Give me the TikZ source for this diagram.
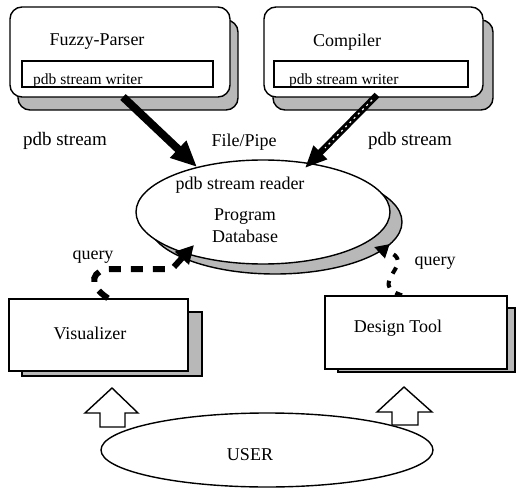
\documentclass[tikz,border=0pt]{standalone}
\usepackage{fontspec}
\setmainfont{Liberation Serif}
\usetikzlibrary{arrows.meta,shapes.geometric}
\begin{document}
\begin{tikzpicture}[x=1pt,y=-1pt,
  frontbox/.style={draw=black, line width=1.4pt, fill=white, rectangle, inner sep=0pt},
  shadebox/.style={draw=black, line width=1.4pt, fill=black!28, rectangle, inner sep=0pt},
  innerbox/.style={draw=black, line width=1.2pt, fill=white, rectangle, inner sep=0pt},
  ellfront/.style={draw=black, line width=1.4pt, fill=white, ellipse, inner sep=0pt},
  ellshade/.style={draw=black, line width=1.4pt, fill=black!28, ellipse, inner sep=0pt},
  lbl/.style={font=\fontsize{18}{21}\selectfont, inner sep=0pt},
  slbl/.style={font=\fontsize{15.5}{18}\selectfont, inner sep=0pt},
  mlbl/.style={font=\fontsize{19}{22}\selectfont, inner sep=0pt},
  blockarrow/.style={draw=black, line width=1.4pt, fill=white, line join=miter},
  bigflow/.style={line width=8pt, -{Triangle[length=26pt,width=22pt]}},
  queryflow/.style={line width=6pt, dash pattern=on 12pt off 10pt, -{Triangle[length=18pt,width=18pt]}},
]
\useasboundingbox (0,0) rectangle (516,489);

% ---- Fuzzy-Parser
\node[shadebox, rounded corners=12pt, minimum width=220pt, minimum height=90pt] (fps) at (128,65) {};
\node[frontbox, rounded corners=12pt, minimum width=220pt, minimum height=90pt] (fp) at (120,52) {};
\node[innerbox, minimum width=191pt, minimum height=26pt] (fpw) at (117.5,74) {};
\node[lbl] (fpt) at (97,42) {Fuzzy-Parser};
\node[slbl, anchor=base west] (fpwt) at (33,85) {pdb stream writer};

% ---- Compiler
\node[shadebox, rounded corners=12pt, minimum width=220pt, minimum height=90pt] (cps) at (383,65) {};
\node[frontbox, rounded corners=12pt, minimum width=219pt, minimum height=90pt] (cp) at (373.5,52) {};
\node[innerbox, minimum width=194pt, minimum height=26pt] (cpw) at (371,74) {};
\node[lbl] (cpt) at (347,42) {Compiler};
\node[slbl, anchor=base west] (cpwt) at (289,85) {pdb stream writer};

% ---- labels between
\node[mlbl] (ls1) at (65,141) {pdb stream};
\node[lbl] (ls2) at (244,142) {File/Pipe};
\node[mlbl] (ls3) at (410,141) {pdb stream};

% ---- Program database
\node[ellshade, minimum width=254pt, minimum height=104pt] (dbs) at (275,222) {};
\node[ellfront, minimum width=254pt, minimum height=104pt] (db) at (263,212) {};
\node[lbl] (dbt1) at (240,185) {pdb stream reader};
\node[lbl] (dbt2) at (245,217) {Program};
\node[lbl] (dbt3) at (245,236) {Database};

% ---- flows into database
\coordinate (a1s) at (123,97);
\coordinate (a1e) at (197,167);
\draw[bigflow] (a1s) -- (a1e);
\coordinate (a2s) at (377,95);
\coordinate (a2e) at (305,168);
\draw[line width=6.5pt, -{Triangle[length=22pt,width=18pt]}] (a2s) -- (a2e);
\draw[white, line width=1.2pt, dash pattern=on 2pt off 4pt] (372,100) -- (325,148);

% ---- Visualizer
\node[shadebox, minimum width=180pt, minimum height=64pt] (vis) at (112,344) {};
\node[frontbox, minimum width=179pt, minimum height=72pt] (vi) at (98.5,335) {};
\node[lbl] (vit) at (90,333) {Visualizer};

% ---- Design Tool
\node[shadebox, minimum width=177pt, minimum height=64pt] (dts) at (426.5,340) {};
\node[frontbox, minimum width=182pt, minimum height=73pt] (dt) at (416,332.5) {};
\node[lbl] (dtt) at (398,328) {Design Tool};

% ---- query arrows
\coordinate (q1s) at (vi.north -| 108,0);
\coordinate (q1e) at (194,245);
\draw[queryflow] (q1s) .. controls (86,284) and (92,269) .. (112,269) -- (172,269) -- (q1e);
\node[lbl] (q1t) at (93,257) {query};

\coordinate (q2s) at (dt.north -| 402,0);
\coordinate (q2e) at (374,247);
\draw[line width=4pt, dash pattern=on 7pt off 8pt, -{Triangle[length=14pt,width=14pt]}] (q2s) .. controls (365,284) and (420,262) .. (q2e);
\node[lbl] (q2t) at (435,263) {query};

% ---- USER
\node[ellfront, minimum width=332pt, minimum height=74pt] (user) at (267,450) {};
\node[lbl] (usert) at (250,455) {USER};

% ---- block arrows
\draw[blockarrow] (100,427) -- (100,413) -- (85,413) -- (112,388) -- (138,413) -- (125,413) -- (125,427) -- cycle;
\draw[blockarrow] (392,425) -- (392,412) -- (377,412) -- (404,387) -- (432,412) -- (418,412) -- (418,425) -- cycle;
\end{tikzpicture}
\end{document}
